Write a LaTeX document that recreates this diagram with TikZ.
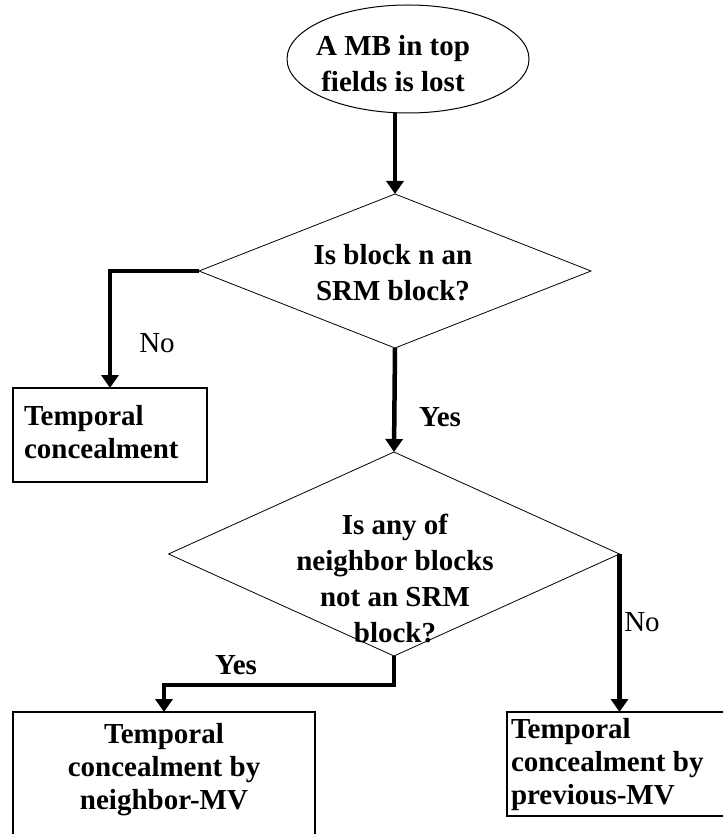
\documentclass[tikz,border=0pt]{standalone}
\usepackage{fontspec}
\setmainfont{Liberation Serif}
\usetikzlibrary{shapes.geometric,arrows.meta}
\begin{document}
\begin{tikzpicture}[x=1pt,y=-1pt,
  every node/.style={inner sep=0pt, outer sep=0pt},
  txt/.style={font=\bfseries\fontsize{29}{36}\selectfont, align=center},
  boxtxt/.style={font=\bfseries\fontsize{29}{33}\selectfont},
  lab/.style={font=\fontsize{29}{33}\selectfont},
  blab/.style={font=\bfseries\fontsize{29}{33}\selectfont},
  dia/.style={diamond, draw, line width=0.8pt},
  box/.style={rectangle, draw, line width=1.2pt},
  arr/.style={line width=4.5pt, -{Triangle[length=13pt,width=17pt]}},
]
\clip (0,0) rectangle (723,834);
\fill[white] (0,0) rectangle (723,834);
% nodes
\node[ellipse, draw, line width=1pt, minimum width=242pt, minimum height=108pt] (e) at (408,59) {};
\node[txt] (et) at (393,64) {A MB in top\\fields is lost};
\node[dia, minimum width=392pt, minimum height=154pt] (d1) at (395,271) {};
\node[txt] (d1t) at (393,273) {Is block n an\\SRM block?};
\node[box, minimum width=194pt, minimum height=94pt] (b1) at (110,435) {};
\node[boxtxt, anchor=west, align=left] (b1t) at (24,432) {Temporal\\concealment};
\node[dia, minimum width=451pt, minimum height=204pt] (d2) at (394,554) {};
\node[txt] (d2t) at (395,578) {Is any of\\neighbor blocks\\not an SRM\\block?};
\node[box, minimum width=302pt, minimum height=138pt] (b2) at (164,781) {};
\node[boxtxt, align=center] (b2t) at (164,770) {Temporal\\concealment by\\neighbor-MV};
\node[box, minimum width=230pt, minimum height=104pt] (b3) at (622,764) {};
\node[boxtxt, anchor=west, align=left] (b3t) at (511,765) {Temporal\\concealment by\\previous-MV};
% connectors
\draw[arr] (e.south -| d1.north) -- (d1.north);
\draw[arr] (d1.west) -| (b1.north);
\draw[arr] (d1.south) -- (d2.north);
\draw[arr] (d2.south) -- ++(0,29) -| (b2.north);
\draw[arr] (d2.east) -- (d2.east |- b3.north);
% labels
\node[lab] (l1) at (157,343) {No};
\node[blab] (l2) at (440,417) {Yes};
\node[blab] (l3) at (236,665) {Yes};
\node[lab] (l4) at (642,622) {No};
\end{tikzpicture}
\end{document}
